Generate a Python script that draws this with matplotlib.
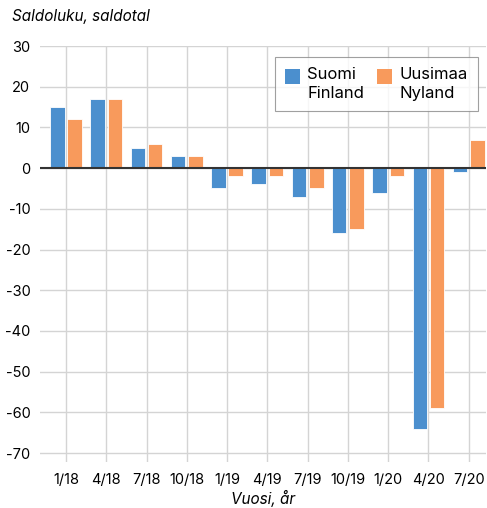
import matplotlib
matplotlib.use("Agg")
from matplotlib import pyplot as plt
from matplotlib import patches as mpatches
from matplotlib.container import BarContainer
from matplotlib.legend_handler import HandlerPatch, update_from_first_child
import numpy as np

plt.rcParams['font.family'] = ['Inter', 'DejaVu Sans']
plt.rcParams['axes.unicode_minus'] = False

quarters = ['1/18', '4/18', '7/18', '10/18', '1/19', '4/19', '7/19', '10/19', '1/20', '4/20', '7/20']
suomi = [15, 17, 5, 3, -5, -4, -7, -16, -6, -64, -1]
uusimaa = [12, 17, 6, 3, -2, -2, -5, -15, -2, -59, 7]

blue = '#4b8fce'
orange = '#f89a5c'
grid_col = '#d4d4d4'

fig = plt.figure(figsize=(4.87, 5.08), dpi=100)
ax = fig.add_axes([40/487, 1 - 462/508, 446/487, 416/508])

x = np.arange(len(quarters))
w = 0.36
ax.bar(x - 0.215, suomi, w, color=blue, edgecolor='white', linewidth=0.6,
       label='Suomi\nFinland', zorder=3)
ax.bar(x + 0.215, uusimaa, w, color=orange, edgecolor='white', linewidth=0.6,
       label='Uusimaa\nNyland', zorder=3)

ax.axhline(0, color='#333333', linewidth=1.5, zorder=4)

ax.set_xlim(-0.646, 10.43)
ax.set_ylim(-72.2, 30)
ax.set_yticks(range(-70, 31, 10))
ax.set_xticks(x)
ax.set_xticklabels(quarters, fontsize=10.5)
ax.tick_params(axis='y', length=0, labelsize=10.5, pad=7)
ax.tick_params(axis='x', length=0, pad=8)
ax.grid(True, color=grid_col, linewidth=1, zorder=0)
for s in ax.spines.values():
    s.set_visible(False)

ax.set_xlabel('Vuosi, år', fontsize=11, style='italic', labelpad=2)
fig.text(12/487, 1 - 16/508, 'Saldoluku, saldotal', fontsize=11, style='italic',
         va='center', ha='left')


# square handle aligned with the first line of the two-line label
def top_square(legend, orig_handle, xdescent, ydescent, width, height, fontsize):
    side = width
    return mpatches.Rectangle((-xdescent, -ydescent + height - side), side, side)


leg = ax.legend(loc='upper right', bbox_to_anchor=((478 - 40) / 446, (462 - 57) / 416),
                borderaxespad=0, ncol=2, fontsize=12, frameon=True, fancybox=False,
                edgecolor='#888888', handlelength=0.9, handleheight=2.5,
                columnspacing=0.8, handletextpad=0.45, borderpad=0.6,
                handler_map={BarContainer: HandlerPatch(patch_func=top_square,
                                                        update_func=update_from_first_child)})
leg.get_frame().set_linewidth(0.8)
for h in leg.legend_handles:
    h.set_edgecolor('none')
for t in leg.get_texts():
    t.set_linespacing(1.35)

fig.savefig('out.png', dpi=100)
